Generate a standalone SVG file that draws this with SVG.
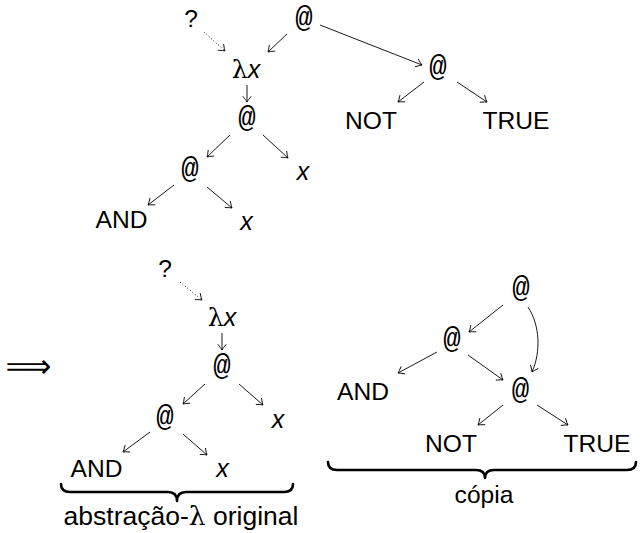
<svg xmlns="http://www.w3.org/2000/svg" width="640" height="533" viewBox="0 0 640 533">
<style>
.t{font-family:"Liberation Sans",Arial,sans-serif;font-size:24.6px;fill:#000;text-anchor:middle}
.at{font-family:"Liberation Mono","DejaVu Sans Mono",monospace;font-size:29px;fill:#000;text-anchor:middle}
.v{font-family:"Liberation Sans",Arial,sans-serif;font-style:italic;font-size:25px;fill:#000;text-anchor:middle}
.lam{font-family:"DejaVu Serif","Liberation Serif",serif;font-style:normal}
.e{fill:none;stroke:#000;stroke-width:0.9;marker-end:url(#ah)}
.d{stroke-dasharray:1 2.2}
.br{fill:none;stroke:#000;stroke-width:2.6;stroke-linecap:round;stroke-linejoin:round}
</style>
<defs>
<marker id="ah" markerUnits="userSpaceOnUse" markerWidth="12" markerHeight="12" viewBox="-7 -6 9 12" refX="0" refY="0" orient="auto">
<path d="M-5.5,-4 Q-1.8,-0.9 0,0 Q-1.8,0.9 -5.5,4" fill="none" stroke="#000" stroke-width="0.85" stroke-linecap="round"/>
</marker>
</defs>
<g id="connectors">
<line class="e d" x1="204" y1="32" x2="225" y2="51"/>
<line class="e" x1="287" y1="34" x2="268" y2="52"/>
<line class="e" x1="320" y1="25" x2="422" y2="65"/>
<line class="e" x1="247" y1="85" x2="247" y2="102"/>
<line class="e" x1="424" y1="82" x2="398" y2="102"/>
<line class="e" x1="457" y1="82" x2="487" y2="102"/>
<line class="e" x1="230" y1="135" x2="207" y2="157"/>
<line class="e" x1="263" y1="135" x2="288" y2="158"/>
<line class="e" x1="174" y1="185" x2="148" y2="205"/>
<line class="e" x1="207" y1="187" x2="232" y2="208"/>
<line class="e d" x1="180" y1="282" x2="202" y2="300"/>
<line class="e" x1="222" y1="333" x2="222" y2="350"/>
<line class="e" x1="205" y1="384" x2="183" y2="404"/>
<line class="e" x1="239" y1="384" x2="263" y2="405"/>
<line class="e" x1="150" y1="432" x2="123" y2="452"/>
<line class="e" x1="183" y1="434" x2="207" y2="455"/>
<line class="e" x1="503" y1="305" x2="469" y2="332"/>
<path class="e" d="M528,307 C540,325 541,352 532,372"/>
<line class="e" x1="468" y1="355" x2="503" y2="380"/>
<line class="e" x1="437" y1="352" x2="398" y2="373"/>
<line class="e" x1="503" y1="405" x2="478" y2="425"/>
<line class="e" x1="537" y1="405" x2="568" y2="425"/>
</g>
<g id="top-q"><text class="t" x="191" y="27">?</text></g>
<g id="top-app-root"><text class="at" x="304" y="27">@</text></g>
<g id="top-lambda"><text class="v" x="246" y="78"><tspan class="lam">λ</tspan>x</text></g>
<g id="top-app-right"><text class="at" x="438" y="76">@</text></g>
<g id="top-not"><text class="t" x="371" y="129">NOT</text></g>
<g id="top-true"><text class="t" x="516" y="129">TRUE</text></g>
<g id="top-app-body"><text class="at" x="247" y="127">@</text></g>
<g id="top-app-inner"><text class="at" x="190" y="178">@</text></g>
<g id="top-x1"><text class="v" x="303" y="180">x</text></g>
<g id="top-and"><text class="t" x="121.5" y="228">AND</text></g>
<g id="top-x2"><text class="v" x="246.5" y="230">x</text></g>
<g id="implies"><text x="28.5" y="377" style="font-family:'DejaVu Sans',sans-serif;font-size:32px;text-anchor:middle">⟹</text></g>
<g id="bl-q"><text class="t" x="165" y="277">?</text></g>
<g id="bl-lambda"><text class="v" x="222" y="326"><tspan class="lam">λ</tspan>x</text></g>
<g id="bl-app-body"><text class="at" x="222" y="375">@</text></g>
<g id="bl-app-inner"><text class="at" x="165" y="426">@</text></g>
<g id="bl-x1"><text class="v" x="278" y="428">x</text></g>
<g id="bl-and"><text class="t" x="96.5" y="477">AND</text></g>
<g id="bl-x2"><text class="v" x="222.5" y="477">x</text></g>
<g id="brace-left">
<path class="br" d="M61,484 Q61,492 70,492 L168,492 Q177,492 177,501 Q177,492 186,492 L284,492 Q293,492 293,484"/>
<text class="t" x="181" y="525" style="font-size:26.5px">abstração-<tspan class="lam">λ</tspan> original</text>
</g>
<g id="r-app-top"><text class="at" x="521" y="297">@</text></g>
<g id="r-app-mid"><text class="at" x="452" y="348">@</text></g>
<g id="r-and"><text class="t" x="363" y="400">AND</text></g>
<g id="r-app-bot"><text class="at" x="520.5" y="399">@</text></g>
<g id="r-not"><text class="t" x="451" y="452">NOT</text></g>
<g id="r-true"><text class="t" x="597" y="452">TRUE</text></g>
<g id="brace-right">
<path class="br" d="M328,462 Q328,470 337,470 L476,470 Q485,470 485,478 Q485,470 494,470 L627,470 Q636,470 636,462"/>
<text class="t" x="484" y="503">cópia</text>
</g>
</svg>
